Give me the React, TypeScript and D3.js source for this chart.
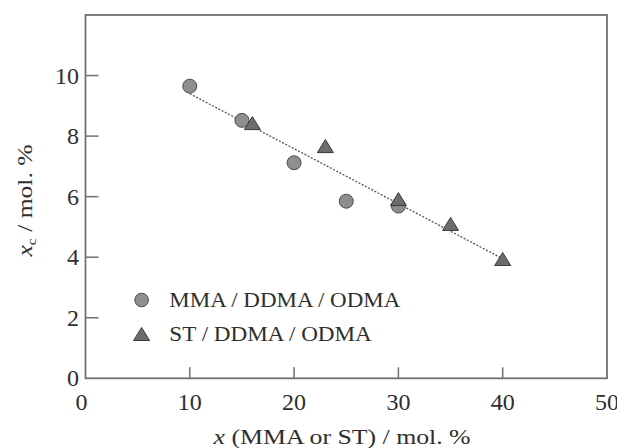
import React from "react";
import * as d3 from "d3";

const circleX = [10, 15, 20, 25, 30];
const circleY = [9.65, 8.52, 7.12, 5.85, 5.69];
const triangleX = [16, 23, 30, 35, 40];
const triangleY = [8.43, 7.67, 5.92, 5.1, 3.94];
const fitX = [10, 40];
const fitY = [9.4, 3.95];
const xTicks = [0, 10, 20, 30, 40, 50];
const yTicks = [0, 2, 4, 6, 8, 10];
const legendLabels = ["MMA / DDMA / ODMA", "ST / DDMA / ODMA"];

const W = 617;
const H = 448;
const left = 85.5;
const right = 607;
const top = 15;
const bottom = 378.3;

const FONT = "Liberation Serif, Times New Roman, Times, serif";
const TEXT = "#2e2e2e";
const AXIS = "#707070";

export default function App() {
  const x = d3.scaleLinear().domain([0, 50]).range([left, right]);
  const y = d3.scaleLinear().domain([0, 12]).range([bottom, top]);
  const line = d3
    .line<number>()
    .x((_, i) => x(fitX[i]))
    .y((d) => y(d));

  const tri = (cx: number, cy: number) => {
    const w = 16;
    const h = 13;
    return `M${cx},${cy - h / 2}L${cx + w / 2},${cy + h / 2}L${cx - w / 2},${cy + h / 2}Z`;
  };

  const ts: React.CSSProperties = { fontFamily: FONT };

  return (
    <svg
      width={W}
      height={H}
      style={{ position: "absolute", left: 0, top: 0, background: "#fff", fontFamily: FONT }}
    >
      <rect x={0} y={0} width={W} height={H} fill="#fff" />
      <path
        d={line(fitY) || ""}
        fill="none"
        stroke="#555"
        strokeWidth={1.3}
        strokeDasharray="2,1.6"
      />
      {circleX.map((cx, i) => (
        <circle
          key={"c" + i}
          cx={x(cx)}
          cy={y(circleY[i])}
          r={7}
          fill="#8e8e8e"
          stroke="#4a4a4a"
          strokeWidth={1}
        />
      ))}
      {triangleX.map((tx, i) => (
        <path
          key={"t" + i}
          d={tri(x(tx), y(triangleY[i]))}
          fill="#6c6c6c"
          stroke="#3a3a3a"
          strokeWidth={1}
        />
      ))}
      <rect
        x={left}
        y={top}
        width={right - left}
        height={bottom - top}
        fill="none"
        stroke={AXIS}
        strokeWidth={1.8}
      />
      {xTicks.map((t) => (
        <g key={"xt" + t}>
          {t > 0 && t < 50 && (
            <line x1={x(t)} x2={x(t)} y1={bottom} y2={bottom - 11} stroke={AXIS} strokeWidth={1.5} />
          )}
          <text
            x={x(t) - (t === 0 ? 4 : 0)}
            y={409.5}
            textAnchor="middle"
            fontSize={24}
            fill={TEXT}
            style={ts}
          >
            {t}
          </text>
        </g>
      ))}
      {yTicks.map((t) => (
        <g key={"yt" + t}>
          {t > 0 && (
            <line x1={left} x2={left + 13} y1={y(t)} y2={y(t)} stroke={AXIS} strokeWidth={1.5} />
          )}
          <text
            x={79}
            y={y(t)}
            dy="0.34em"
            textAnchor="end"
            fontSize={24}
            fill={TEXT}
            style={ts}
          >
            {t}
          </text>
        </g>
      ))}
      <circle cx={141.6} cy={300} r={6.8} fill="#8e8e8e" stroke="#4a4a4a" strokeWidth={1} />
      <text
        x={169.3}
        y={307.3}
        fontSize={21.5}
        fill={TEXT}
        style={ts}
        textLength={231}
        lengthAdjust="spacingAndGlyphs"
      >
        {legendLabels[0]}
      </text>
      <path d={tri(141.6, 334)} fill="#6c6c6c" stroke="#3a3a3a" strokeWidth={1} />
      <text
        x={169.3}
        y={340.7}
        fontSize={21.5}
        fill={TEXT}
        style={ts}
        textLength={202.5}
        lengthAdjust="spacingAndGlyphs"
      >
        {legendLabels[1]}
      </text>
      <text
        x={213.6}
        y={443.5}
        fontSize={22}
        fill={TEXT}
        style={ts}
        textLength={257}
        lengthAdjust="spacingAndGlyphs"
      >
        <tspan fontStyle="italic">x</tspan>
        <tspan> (MMA or ST) / mol. %</tspan>
      </text>
      <text
        transform="translate(31.5,256.5) rotate(-90)"
        fontSize={21}
        fill={TEXT}
        style={ts}
        textLength={112}
        lengthAdjust="spacingAndGlyphs"
      >
        <tspan fontStyle="italic">x</tspan>
        <tspan fontSize={13} dy={4}>c</tspan>
        <tspan dy={-4}> / mol. %</tspan>
      </text>
    </svg>
  );
}
